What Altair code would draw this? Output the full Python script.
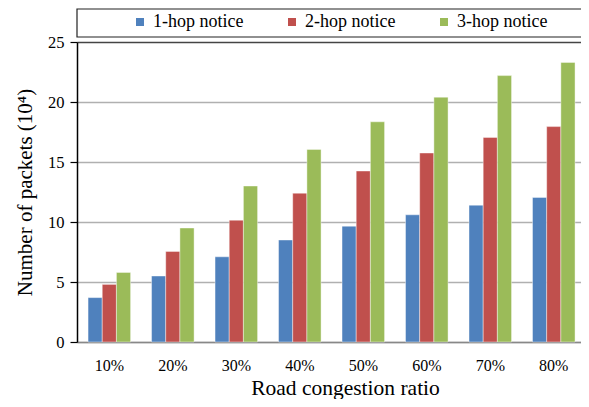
import altair as alt
import pandas as pd

categories = ["10%", "20%", "30%", "40%", "50%", "60%", "70%", "80%"]
series_names = ["1-hop notice", "2-hop notice", "3-hop notice"]
hop1 = [3.7, 5.5, 7.1, 8.5, 9.65, 10.6, 11.4, 12.05]
hop2 = [4.8, 7.55, 10.15, 12.4, 14.25, 15.75, 17.05, 17.95]
hop3 = [5.8, 9.5, 13.0, 16.05, 18.35, 20.4, 22.2, 23.3]
colors = ["#4F81BD", "#C0504D", "#9BBB59"]

rows = []
for s, vals in zip(series_names, [hop1, hop2, hop3]):
    for c, v in zip(categories, vals):
        rows.append({"ratio": c, "series": s, "value": v})
df = pd.DataFrame(rows)

FONT = "Liberation Serif, Times New Roman, serif"
W, H = 504, 300

bars = alt.Chart(df).mark_bar(stroke="#ffffff", strokeWidth=0.6, strokeOpacity=0.7).encode(
    x=alt.X("ratio:N", sort=categories,
            scale=alt.Scale(paddingInner=0.33, paddingOuter=0.134, align=0.65),
            axis=alt.Axis(title="Road congestion ratio", labelAngle=0, ticks=False,
                          labelPadding=15, labelFontSize=16, labelFont=FONT, labelColor="#000",
                          titleFontSize=21.5, titleFont=FONT, titleFontWeight="normal",
                          titleColor="#000", titleX=268, titleY=52, titleAlign="center",
                          titleBaseline="alphabetic",
                          domainColor="#888888", domainWidth=1.5, grid=False)),
    xOffset=alt.XOffset("series:N", sort=series_names),
    y=alt.Y("value:Q", scale=alt.Scale(domain=[0, 25], nice=False),
            axis=alt.Axis(title="Number of packets (10⁴)", values=[0, 5, 10, 15, 20, 25],
                          tickSize=7, tickColor="#000", tickWidth=1.2,
                          labelPadding=6, labelFontSize=16.5, labelFont=FONT, labelColor="#000",
                          titleFontSize=21, titleFont=FONT, titleFontWeight="normal",
                          titleColor="#000", titlePadding=12,
                          domainColor="#000", domainWidth=1.5,
                          grid=True, gridWidth=1.5,
                          gridColor=alt.expr("datum.value == 25 ? '#444444' : '#b0b0b0'"))),
    color=alt.Color("series:N", sort=series_names,
                    scale=alt.Scale(domain=series_names, range=colors),
                    legend=alt.Legend(title=None, orient="none", legendX=54, legendY=-29,
                                      direction="horizontal", symbolType="square",
                                      symbolSize=64, symbolStrokeWidth=0,
                                      labelFont=FONT, labelFontSize=18, labelColor="#000",
                                      labelOffset=4, columnPadding=39)),
)

box = alt.Chart(pd.DataFrame({"a": [0]})).mark_rect(
    fill=None, stroke="#222222", strokeWidth=1.2
).encode(
    x=alt.value(0), x2=alt.value(W + 40), y=alt.value(-33), y2=alt.value(-5)
)

chart = alt.layer(box, bars).properties(
    width=W, height=H,
    autosize=alt.AutoSizeParams(type="none"),
    padding={"left": 69, "top": 34, "right": 0, "bottom": 57},
).configure_view(stroke=None).configure(background="#ffffff", font=FONT)

chart.save("out.html", embed_options={"renderer": "svg", "actions": False})
